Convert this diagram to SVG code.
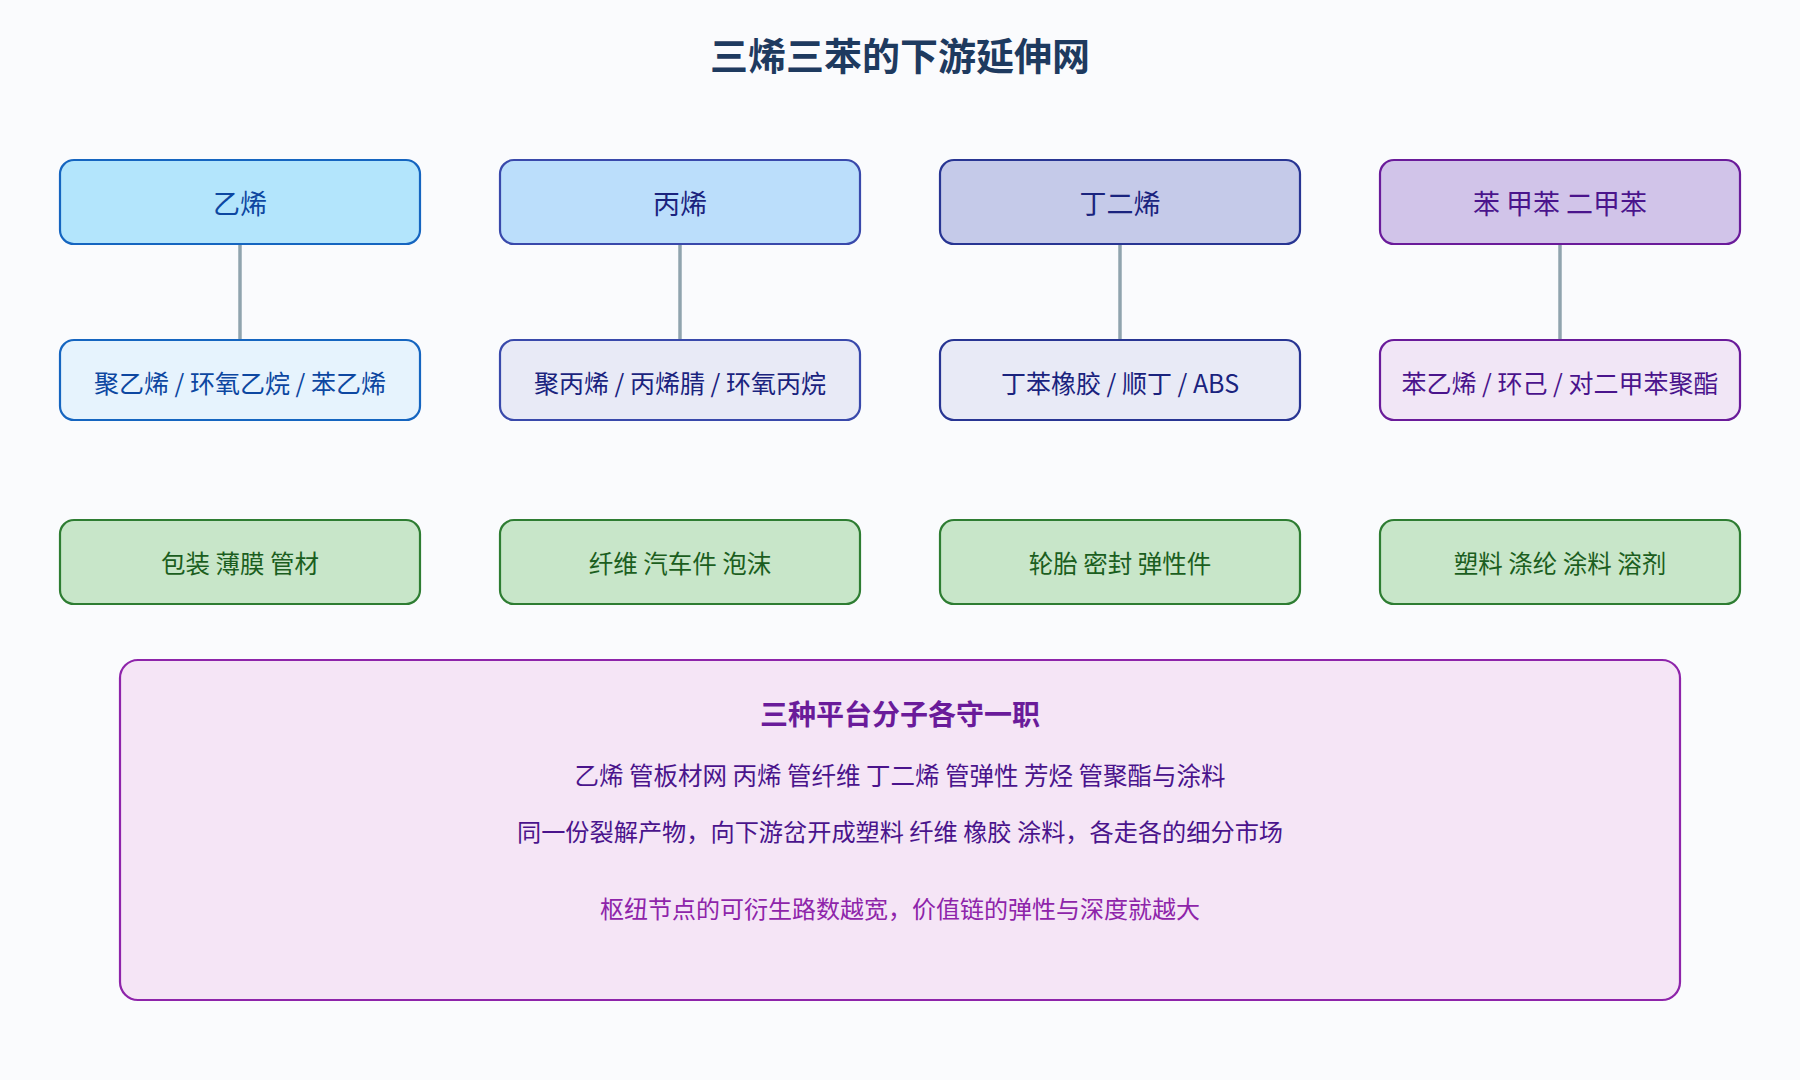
<svg xmlns="http://www.w3.org/2000/svg" width="1800" height="1080" viewBox="0 0 1800 1080">
<style>
text{font-family:"Noto Sans CJK SC","Noto Sans",sans-serif;text-anchor:middle;dominant-baseline:central;stroke:none}
.box{stroke-width:2.2}
.t1{font-size:27px}
.t2{font-size:25px}
.t3{font-size:24.5px}
.conn{stroke:#90a4ae;stroke-width:3.5;fill:none}
.app rect{fill:#c8e6c9;stroke:#2e7d32}
.app text{fill:#1b5e20}
</style>
<rect width="1800" height="1080" fill="#fafbfd"/>
<text x="900" y="53" font-size="38" font-weight="bold" fill="#1e3a5f">三烯三苯的下游延伸网</text>
<g id="connectors">
<line class="conn" x1="240" y1="244" x2="240" y2="340"/>
<line class="conn" x1="680" y1="244" x2="680" y2="340"/>
<line class="conn" x1="1120" y1="244" x2="1120" y2="340"/>
<line class="conn" x1="1560" y1="244" x2="1560" y2="340"/>
</g>
<g id="n-ethylene"><rect class="box" x="60" y="160" width="360" height="84" rx="14" fill="#b3e5fc" stroke="#1565c0"/><text class="t1" x="240" y="202" fill="#0d47a1">乙烯</text></g>
<g id="n-propylene"><rect class="box" x="500" y="160" width="360" height="84" rx="14" fill="#bbdefb" stroke="#3949ab"/><text class="t1" x="680" y="202" fill="#1a237e">丙烯</text></g>
<g id="n-butadiene"><rect class="box" x="940" y="160" width="360" height="84" rx="14" fill="#c5cae9" stroke="#283593"/><text class="t1" x="1120" y="202" fill="#1a237e">丁二烯</text></g>
<g id="n-btx"><rect class="box" x="1380" y="160" width="360" height="84" rx="14" fill="#d1c4e9" stroke="#6a1b9a"/><text class="t1" x="1560" y="202" fill="#4a148c">苯 甲苯 二甲苯</text></g>
<g id="d-ethylene"><rect class="box" x="60" y="340" width="360" height="80" rx="14" fill="#e6f3fd" stroke="#1565c0"/><text class="t2" x="240" y="382" fill="#0d47a1">聚乙烯 / 环氧乙烷 / 苯乙烯</text></g>
<g id="d-propylene"><rect class="box" x="500" y="340" width="360" height="80" rx="14" fill="#e8eaf6" stroke="#3949ab"/><text class="t2" x="680" y="382" fill="#1a237e">聚丙烯 / 丙烯腈 / 环氧丙烷</text></g>
<g id="d-butadiene"><rect class="box" x="940" y="340" width="360" height="80" rx="14" fill="#e8eaf6" stroke="#283593"/><text class="t2" x="1120" y="382" fill="#1a237e">丁苯橡胶 / 顺丁 / ABS</text></g>
<g id="d-btx"><rect class="box" x="1380" y="340" width="360" height="80" rx="14" fill="#f1e6f6" stroke="#6a1b9a"/><text class="t2" x="1560" y="382" fill="#4a148c">苯乙烯 / 环己 / 对二甲苯聚酯</text></g>
<g id="a-ethylene" class="app"><rect class="box" x="60" y="520" width="360" height="84" rx="14"/><text class="t3" x="240" y="562">包装 薄膜 管材</text></g>
<g id="a-propylene" class="app"><rect class="box" x="500" y="520" width="360" height="84" rx="14"/><text class="t3" x="680" y="562">纤维 汽车件 泡沫</text></g>
<g id="a-butadiene" class="app"><rect class="box" x="940" y="520" width="360" height="84" rx="14"/><text class="t3" x="1120" y="562">轮胎 密封 弹性件</text></g>
<g id="a-btx" class="app"><rect class="box" x="1380" y="520" width="360" height="84" rx="14"/><text class="t3" x="1560" y="562">塑料 涤纶 涂料 溶剂</text></g>
<g id="summary">
<rect x="120" y="660" width="1560" height="340" rx="18" fill="#f5e5f6" stroke="#8e24aa" stroke-width="2.2"/>
<text x="900" y="713" font-size="28" font-weight="bold" fill="#6a1b9a">三种平台分子各守一职</text>
<text x="900" y="774" font-size="24.5" fill="#4a148c">乙烯 管板材网 丙烯 管纤维 丁二烯 管弹性 芳烃 管聚酯与涂料</text>
<text x="900" y="830" font-size="24.2" fill="#4a148c">同一份裂解产物，向下游岔开成塑料 纤维 橡胶 涂料，各走各的细分市场</text>
<text x="900" y="907" font-size="24" fill="#8e24aa">枢纽节点的可衍生路数越宽，价值链的弹性与深度就越大</text>
</g>
</svg>
